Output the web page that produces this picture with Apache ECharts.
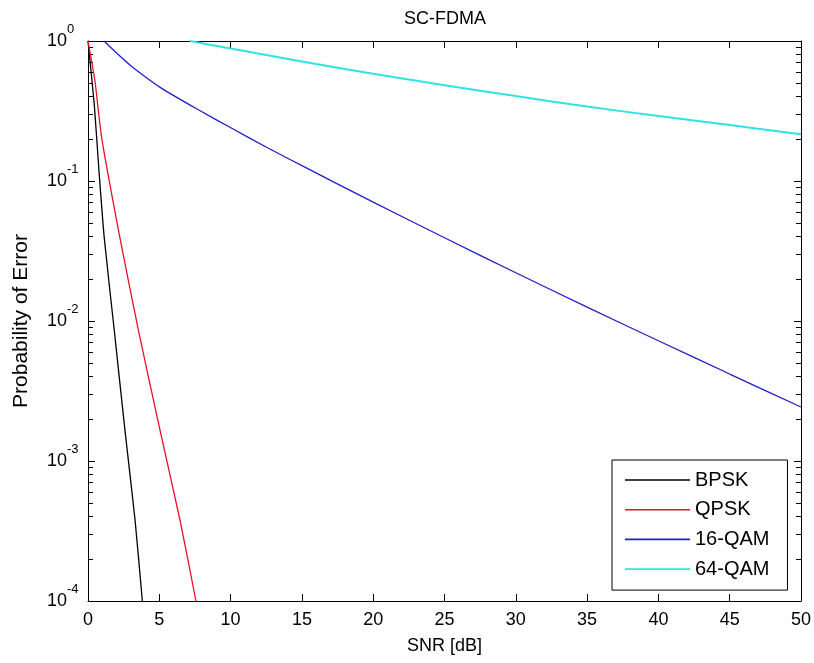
<!DOCTYPE html>
<html>
<head>
<meta charset="utf-8">
<script src="https://cdn.jsdelivr.net/npm/echarts@6/dist/echarts.min.js"></script>
<style>
html,body{margin:0;padding:0;background:#fff;}
#chart{width:814px;height:663px;}
</style>
</head>
<body>
<div id="chart"></div>
<script>
// ---- data ----
const seriesNames = ['BPSK', 'QPSK', '16-QAM', '64-QAM'];

const snrBPSK = [0, 0.44, 0.77, 1.14, 1.84, 2.59, 3.30, 3.81];
const berBPSK = [1, 0.351, 0.118, 0.0392, 0.00863, 0.00166, 0.000379, 0.0001];

const snrQPSK = [0, 0.49, 0.96, 2.24, 3.53, 5.05, 6.45, 7.57];
const berQPSK = [1, 0.515, 0.203, 0.0392, 0.00863, 0.00166, 0.000379, 0.0001];

const snr16QAM = [1.12, 2.1, 3.04, 5.14, 7.71, 10.05, 12.62, 15.31, 20, 25, 30, 35, 40, 45, 50];
const ber16QAM = [1, 0.804, 0.661, 0.461, 0.324, 0.239, 0.172, 0.124, 0.0706, 0.0393, 0.0221, 0.01256, 0.00723, 0.00418, 0.00243];

const snr64QAM = [7.15, 10, 15, 20, 25, 30, 35, 40, 45, 50];
const ber64QAM = [1, 0.883, 0.714, 0.583, 0.483, 0.404, 0.340, 0.291, 0.251, 0.216];

const xTicks = [0, 5, 10, 15, 20, 25, 30, 35, 40, 45, 50];
const yDecades = [1e-4, 1e-3, 1e-2, 1e-1, 1];
const yMinorTicks = [];
for (let d = 0; d < yDecades.length - 1; d++) {
  for (let m = 2; m <= 9; m++) yMinorTicks.push(yDecades[d] * m);
}

const FONT = '"Liberation Sans", Arial, Helvetica, sans-serif';
const colors = ['#000000', '#e8102a', '#2020c8', '#2fe3e3'];
const widths = [1.3, 1.3, 1.3, 2];

const pairs = (xs, ys) => xs.map((x, i) => [x, ys[i]]);
const allData = [
  pairs(snrBPSK, berBPSK),
  pairs(snrQPSK, berQPSK),
  pairs(snr16QAM, ber16QAM),
  pairs(snr64QAM, ber64QAM)
];

const chart = echarts.init(document.getElementById('chart'), null, {renderer: 'canvas'});

const axisLineStyle = {show: true, onZero: false, lineStyle: {color: '#000', width: 1}};
const majorTick = {show: true, inside: true, length: 7, lineStyle: {color: '#000', width: 1}};
const minorTickCfg = {show: true, inside: true, length: 5, lineStyle: {color: '#000', width: 1}, customValues: yMinorTicks};

const logAxisBase = {
  type: 'log', logBase: 10, min: 1e-4, max: 1,
  splitLine: {show: false}, minorSplitLine: {show: false}
};

const legendIcon = 'path://M0,0 L65,0 L65,1.6 L0,1.6 Z';

const option = {
  animation: false,
  backgroundColor: '#fff',
  title: {
    text: 'SC-FDMA', left: 399, top: 5,
    textStyle: {fontFamily: FONT, fontSize: 18, fontWeight: 'normal', color: '#000'}
  },
  grid: {left: 88, top: 41, right: 13, bottom: 62},
  legend: {
    data: seriesNames.map(n => ({name: n, icon: legendIcon})),
    orient: 'vertical',
    left: 612, top: 460,
    padding: [10, 18, 11, 13],
    itemWidth: 65, itemHeight: 1.6, itemGap: 9.7,
    borderColor: '#000', borderWidth: 1, backgroundColor: '#fff',
    textStyle: {fontFamily: FONT, fontSize: 20, color: '#000', lineHeight: 20}
  },
  xAxis: [
    {
      type: 'value', min: 0, max: 50, interval: 5, position: 'bottom',
      axisLine: axisLineStyle, axisTick: majorTick,
      axisLabel: {fontFamily: FONT, fontSize: 18, color: '#000', margin: 10,
        customValues: xTicks},
      splitLine: {show: false},
      name: 'SNR [dB]', nameLocation: 'middle', nameGap: 36,
      nameTextStyle: {fontFamily: FONT, fontSize: 18, color: '#000'}
    },
    {
      type: 'value', min: 0, max: 50, interval: 5, position: 'top',
      axisLine: axisLineStyle, axisTick: majorTick,
      axisLabel: {show: false}, splitLine: {show: false}
    }
  ],
  yAxis: [
    Object.assign({}, logAxisBase, {
      position: 'left',
      axisLine: axisLineStyle, axisTick: majorTick,
      axisLabel: {
        align: 'left', margin: 41, color: '#000',
        formatter: function (v) {
          const e = Math.round(Math.log10(v));
          return '{b|10}{e|' + e + '}';
        },
        rich: {
          b: {fontFamily: FONT, fontSize: 18, color: '#000', padding: [9, 0, 9, 0], lineHeight: 18},
          e: {fontFamily: FONT, fontSize: 13, color: '#000', padding: [0, 0, 23, 0], lineHeight: 13}
        }
      },
      name: 'Probability of Error', nameLocation: 'middle', nameGap: 56,
      nameTextStyle: {fontFamily: FONT, fontSize: 21, color: '#000'}
    }),
    Object.assign({}, logAxisBase, {
      position: 'right',
      axisLine: axisLineStyle, axisTick: majorTick, axisLabel: {show: false}
    }),
    Object.assign({}, logAxisBase, {
      position: 'left',
      axisLine: {show: false, onZero: false}, axisTick: minorTickCfg, axisLabel: {show: false}
    }),
    Object.assign({}, logAxisBase, {
      position: 'right',
      axisLine: {show: false, onZero: false}, axisTick: minorTickCfg, axisLabel: {show: false}
    })
  ],
  series: seriesNames.map((name, i) => ({
    name: name,
    type: 'line',
    xAxisIndex: 0, yAxisIndex: 0,
    data: allData[i],
    showSymbol: false, symbol: 'none',
    smooth: 0.2,
    clip: true,
    color: colors[i],
    lineStyle: {color: colors[i], width: widths[i]},
    itemStyle: {color: colors[i]}
  }))
};

chart.setOption(option);
</script>
</body>
</html>
